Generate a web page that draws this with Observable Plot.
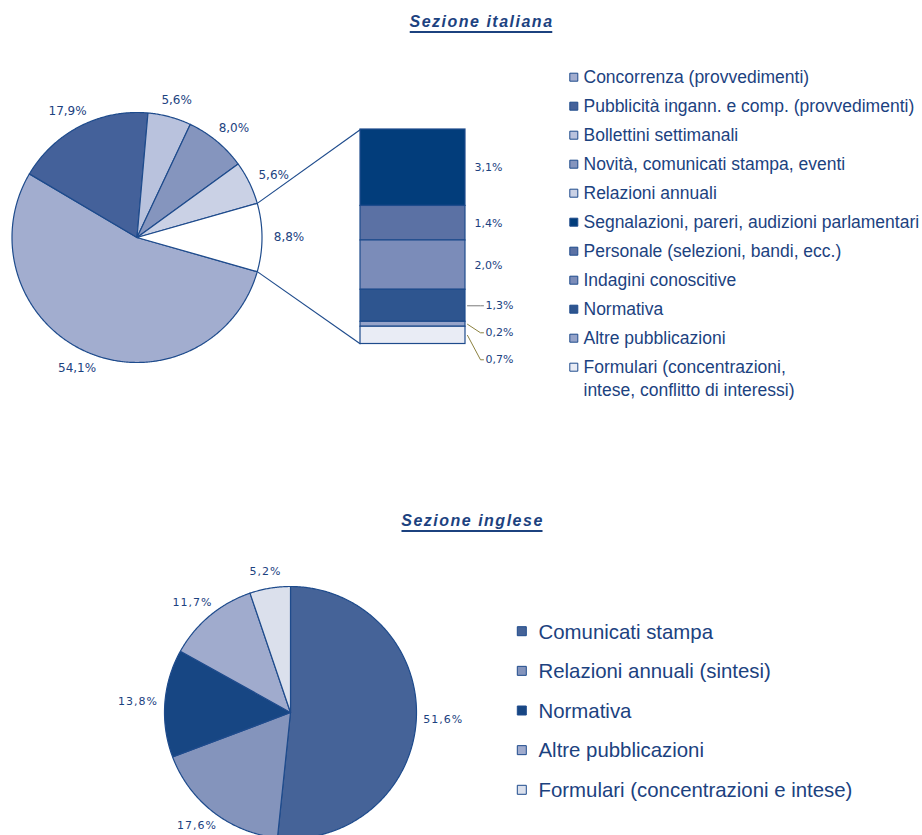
<!DOCTYPE html>
<html><head><meta charset="utf-8">
<script src="https://cdn.jsdelivr.net/npm/d3@7"></script>
<script src="https://cdn.jsdelivr.net/npm/@observablehq/plot@0.6"></script>
<style>
body{margin:0;background:#fff;}
#chart{width:922px;height:835px;}
g[aria-description="titles"] text{letter-spacing:1.5px;}
g[aria-description="eng-labels"] text{letter-spacing:1px;}
</style></head><body><div id="chart"></div>
<script>
// ---------- DATA ----------
const titles = ["Sezione italiana", "Sezione inglese"];

const itaPieCategories = ["Concorrenza (provvedimenti)", "Pubblicità ingann. e comp. (provvedimenti)", "Bollettini settimanali", "Novità, comunicati stampa, eventi", "Relazioni annuali", "Altre voci"];
const itaPieValues = [54.1, 17.9, 5.6, 8.0, 5.6, 8.8];

const itaBarCategories = ["Segnalazioni, pareri, audizioni parlamentari", "Personale (selezioni, bandi, ecc.)", "Indagini conoscitive", "Normativa", "Altre pubblicazioni", "Formulari (concentrazioni,\nintese, conflitto di interessi)"];
const itaBarValues = [3.1, 1.4, 2.0, 1.3, 0.2, 0.7];

const engCategories = ["Comunicati stampa", "Relazioni annuali (sintesi)", "Normativa", "Altre pubblicazioni", "Formulari (concentrazioni e intese)"];
const engValues = [51.6, 17.6, 13.8, 11.7, 5.2];

// ---------- STYLE ----------
const itaPieColors = ["#a2adcf", "#44619a", "#b9c2dd", "#8595be", "#cad1e5", "#ffffff"];
const itaBarColors = ["#023d7b", "#5b71a4", "#7b8cb9", "#2e558f", "#95a3c9", "#e9ecf5"];
const engColors = ["#456398", "#8494bc", "#174683", "#a0abcd", "#dbe0ec"];
const lineColor = "#1e4b8c";
const textColor = "#1c427f";
const W = 922, H = 835;

// ---------- LAYOUT ----------
const pie1 = {cx: 136.5, cy: 237, r: 125};
const pie2 = {cx: 290, cy: 712, r: 126};
const bar = {x0: 360, x1: 465, y0: 129, y1: 343.5};
const titlePos = [{x: 481, base: 26, size: 16}, {x: 472, base: 525, size: 16}];

const fmt = d3.formatLocale({decimal: ",", thousands: ".", grouping: [3], currency: ["", "€"]}).format(".1f");
const pct = v => fmt(v) + "%";
const polar = (p, a, rr) => [p.cx + rr * Math.sin(a), p.cy - rr * Math.cos(a)];

function arcsOf(values, start) {
  return d3.pie().sort(null).value(d => d).startAngle(start).endAngle(start + 2 * Math.PI)(values);
}
function polygons(arcs, p, prefix, colors) {
  const pts = [];
  arcs.forEach((a, i) => {
    const key = prefix + i, color = colors[i];
    const n = Math.max(2, Math.ceil((a.endAngle - a.startAngle) / (Math.PI / 360)));
    pts.push({key, color, x: p.cx, y: p.cy});
    for (let k = 0; k <= n; k++) {
      const [x, y] = polar(p, a.startAngle + (a.endAngle - a.startAngle) * k / n, p.r);
      pts.push({key, color, x, y});
    }
    pts.push({key, color, x: p.cx, y: p.cy});
  });
  return pts;
}
function labels(arcs, p, values) {
  return arcs.map((a, i) => {
    const m = (a.startAngle + a.endAngle) / 2;
    return {x: p.cx + (p.r + 27) * Math.sin(m), y: p.cy - (p.r + 17) * Math.cos(m), text: pct(values[i])};
  });
}

// Italian pie: the aggregated slice (last) is centred on 3 o'clock
const itaHalf = itaPieValues[itaPieValues.length - 1] / d3.sum(itaPieValues) * Math.PI;
const itaArcs = arcsOf(itaPieValues, Math.PI / 2 + itaHalf);
const itaPoly = polygons(itaArcs, pie1, "i", itaPieColors);
const itaLab = labels(itaArcs, pie1, itaPieValues);

// English pie starts at 12 o'clock
const engArcs = arcsOf(engValues, 0);
const engPoly = polygons(engArcs, pie2, "e", engColors);
const engLab = labels(engArcs, pie2, engValues);

// Bar of pie
const barTotal = d3.sum(itaBarValues);
const kBar = (bar.y1 - bar.y0) / barTotal;
let acc = 0, prev = -Infinity;
const barRows = itaBarValues.map((v, i) => {
  const r = {y1: bar.y0 + acc * kBar, y2: bar.y0 + (acc + v) * kBar, color: itaBarColors[i], text: pct(v)};
  acc += v;
  r.mid = (r.y1 + r.y2) / 2;
  r.ly = Math.max(r.mid, prev + 27);
  prev = r.ly;
  r.leader = (r.y2 - r.y1) < 33;
  r.displaced = r.ly - r.mid > 3;
  r.lx = r.leader ? bar.x1 + 20 : bar.x1 + 9;
  return r;
});
const leaders = [];
barRows.forEach((r, i) => {
  if (!r.leader) return;
  const c = r.displaced ? "#8c8240" : "#7a7a7a";
  leaders.push({k: i, c, x: bar.x1 + 2, y: r.displaced ? r.mid : r.ly});
  leaders.push({k: i, c, x: r.lx - 5, y: r.ly});
  leaders.push({k: i, c, x: r.lx - 2, y: r.ly});
});

// connectors from aggregated slice to the bar
const agg = itaArcs[itaArcs.length - 1];
const [ux, uy] = polar(pie1, agg.startAngle, pie1.r);
const [lx, ly] = polar(pie1, agg.endAngle, pie1.r);
const connectors = [
  {x1: ux, y1: uy, x2: bar.x0, y2: bar.y0},
  {x1: lx, y1: ly, x2: bar.x0, y2: bar.y1}
];

// Legends
const leg1Size = 17.5, leg1LH = 1.31, leg2Size = 20.4;
const legend1 = [
  ...itaPieCategories.slice(0, 5).map((c, i) => ({label: c, color: itaPieColors[i]})),
  ...itaBarCategories.map((c, i) => ({label: c, color: itaBarColors[i]}))
].map((d, i) => ({...d, y: 76.7 + i * 29}));
const legend2 = engCategories.map((c, i) => ({label: c, color: engColors[i], y: 630.7 + i * 39.65}));
// text y so that the cap-height centre of the first line sits on the row centre
const textTop = (rowY, fs, lh) => rowY + (0.358 - 0.71 * lh) * fs;

// Titles with underline measured from text
const ctx = document.createElement("canvas").getContext("2d");
const titleRows = titles.map((t, i) => {
  const p = titlePos[i];
  ctx.font = `italic bold ${p.size}px "Liberation Sans"`;
  const w = ctx.measureText(t).width + 1.5 * (t.length - 1);
  return {text: t, x: p.x, y: p.base - 0.32 * p.size, ux1: p.x - w / 2, ux2: p.x + w / 2, uy: p.base + 5.5};
});

const sq = s => s / Math.sqrt(Math.PI);

const chart = Plot.plot({
  width: W, height: H,
  margin: 0,
  x: {domain: [0, W], range: [0, W], axis: null},
  y: {domain: [0, H], range: [0, H], axis: null},
  color: {type: "identity"},
  style: {background: "#fff", overflow: "visible"},
  marks: [
    // titles
    Plot.text(titleRows, {x: "x", y: "y", text: "text", fill: textColor, fontSize: 16, fontWeight: "bold", fontStyle: "italic", fontFamily: "Liberation Sans", textAnchor: "middle", ariaDescription: "titles"}),
    Plot.ruleY(titleRows, {y: "uy", x1: "ux1", x2: "ux2", stroke: textColor, strokeWidth: 2}),
    // connectors
    Plot.link(connectors, {x1: "x1", y1: "y1", x2: "x2", y2: "y2", stroke: lineColor, strokeWidth: 1.2}),
    // pies
    Plot.line(itaPoly, {x: "x", y: "y", z: "key", fill: "color", stroke: lineColor, strokeWidth: 1.2, strokeLinejoin: "round"}),
    Plot.line(engPoly, {x: "x", y: "y", z: "key", fill: "color", stroke: lineColor, strokeWidth: 1.2, strokeLinejoin: "round"}),
    Plot.text(itaLab, {x: "x", y: "y", text: "text", fill: textColor, fontSize: 12, fontFamily: "DejaVu Sans"}),
    Plot.text(engLab, {x: "x", y: "y", text: "text", fill: textColor, fontSize: 11, fontFamily: "DejaVu Sans", ariaDescription: "eng-labels"}),
    // bar
    Plot.rect(barRows, {x1: () => bar.x0, x2: () => bar.x1, y1: "y1", y2: "y2", fill: "color", stroke: lineColor, strokeWidth: 1.2}),
    Plot.line(leaders, {x: "x", y: "y", z: "k", stroke: "c", strokeWidth: 1}),
    Plot.text(barRows, {x: "lx", y: "ly", text: "text", fill: textColor, fontSize: 11, fontFamily: "DejaVu Sans", textAnchor: "start"}),
    // legends
    Plot.dot(legend1, {x: () => 573.3, y: "y", symbol: "square", r: sq(8), fill: "color", stroke: lineColor, strokeWidth: 1}),
    Plot.text(legend1, {x: () => 583, y: d => textTop(d.y, leg1Size, leg1LH), text: "label", fill: textColor, fontSize: leg1Size, fontFamily: "Liberation Sans", textAnchor: "start", lineAnchor: "top", lineHeight: leg1LH}),
    Plot.dot(legend2, {x: () => 521.3, y: "y", symbol: "square", r: sq(9), fill: "color", stroke: lineColor, strokeWidth: 1}),
    Plot.text(legend2, {x: () => 538, y: d => textTop(d.y, leg2Size, 1), text: "label", fill: textColor, fontSize: leg2Size, fontFamily: "Liberation Sans", textAnchor: "start", lineAnchor: "top"})
  ]
});
document.getElementById("chart").appendChild(chart);
</script>
</body></html>
